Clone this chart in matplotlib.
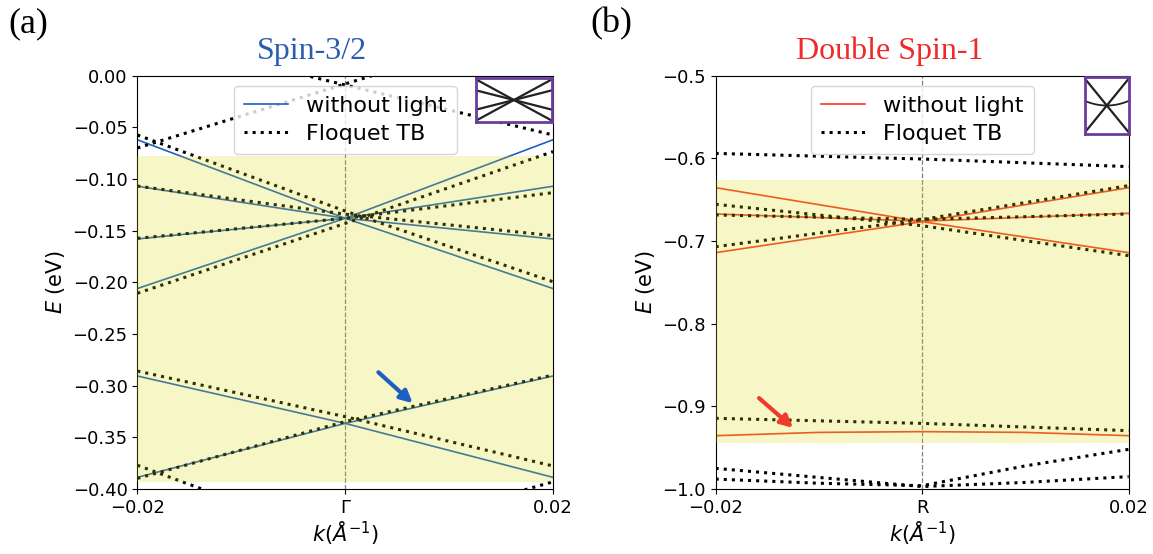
import numpy as np
import matplotlib
matplotlib.use("Agg")
import matplotlib.pyplot as plt

# ---- data ----
k3 = [-0.02, 0.0, 0.02]
k5 = [-0.02, -0.01, 0.0, 0.01, 0.02]

# (a) Spin-3/2 : bands without light (solid)
a_bare = [
    [-0.062, -0.138, -0.206],
    [-0.107, -0.138, -0.158],
    [-0.158, -0.138, -0.107],
    [-0.206, -0.138, -0.062],
    [-0.2906, -0.3365, -0.3887],
    [-0.3887, -0.3365, -0.2906],
]
# (a) Floquet TB (dotted)
a_floq = [
    [-0.0574, -0.131, -0.1994],
    [-0.1068, -0.134, -0.1548],
    [-0.1574, -0.138, -0.1132],
    [-0.2106, -0.143, -0.0735],
    [-0.2858, -0.330, -0.3777],
    [-0.3897, -0.3348, -0.2897],
    [-0.070, -0.008, 0.054],
    [0.040, -0.009, -0.0574],
    [-0.377, -0.451, -0.530],
    [-0.550, -0.450, -0.393],
]
a_window = (-0.393, -0.0777)

# (b) Double Spin-1
b_bare3 = [
    [-0.6355, -0.6766, -0.7141],
    [-0.6673, -0.6760, -0.6665],
    [-0.7141, -0.6766, -0.6355],
]
b_bare5 = [[-0.9355, -0.9315, -0.9306, -0.9315, -0.9355]]
b_floq3 = [
    [-0.594, -0.6008, -0.610],
    [-0.6556, -0.6815, -0.7177],
    [-0.6685, -0.6738, -0.6673],
    [-0.7069, -0.6740, -0.633],
]
b_floq5 = [
    [-0.9145, -0.9175, -0.9206, -0.925, -0.9294],
    [-0.975, -0.986, -0.997, -0.992, -0.985],
    [-0.988, -0.993, -0.996, -0.972, -0.952],
]
b_window = (-0.944, -0.6262)

# inset sketches (box coordinates 0..1)
ins_x = [0.0, 0.5, 1.0]
ins_a = [[0.97, 0.5, 0.03], [0.72, 0.5, 0.28], [0.28, 0.5, 0.72], [0.03, 0.5, 0.97]]
ins_b = [[0.97, 0.5, 0.03], [0.03, 0.5, 0.97], [0.58, 0.5, 0.58]]

blue = "#1f5fc0"
red = "#f03a2a"
purple = "#6a3d9a"

plt.rcParams["font.size"] = 13
fig = plt.figure(figsize=(11.53, 5.54), dpi=100)
axa = fig.add_axes([0.1191, 0.1173, 0.3605, 0.7461])
axb = fig.add_axes([0.6207, 0.1173, 0.3582, 0.7461])


def panel(ax, bare, floq, window, color, ylim, yticks, fmt, xtick_mid):
    ax.axvline(0, color="gray", ls="--", lw=0.9, zorder=1)
    for i, (kk, ee) in enumerate(bare):
        ax.plot(kk, ee, color=color, lw=1.2, zorder=2,
                label="without light" if i == 0 else None)
    for i, (kk, ee) in enumerate(floq):
        ax.plot(kk, ee, color="black", ls=":", lw=2.2, zorder=2,
                label="Floquet TB" if i == 0 else None)
    ax.axhspan(window[0], window[1], color="#dada00", alpha=0.22, lw=0, zorder=3)
    ax.set_xlim(-0.02, 0.02)
    ax.set_ylim(*ylim)
    ax.set_xticks([-0.02, 0.0, 0.02])
    ax.set_xticklabels(["\u22120.02", xtick_mid, "0.02"])
    ax.set_yticks(yticks)
    ax.set_yticklabels([fmt % v if v >= 0 else "\u2212" + fmt % abs(v) for v in yticks])
    ax.set_xlabel(r"$k(\AA^{-1})$", fontsize=15, labelpad=2)
    ax.set_ylabel(r"$E$ (eV)", fontsize=15)
    leg = ax.legend(loc="upper center", fontsize=16, handlelength=2.0,
                    handletextpad=0.8, borderaxespad=0.45, labelspacing=0.38,
                    borderpad=0.45)
    leg.set_zorder(5)


panel(axa,
      [(k3, e) for e in a_bare],
      [(k3, e) for e in a_floq],
      a_window, blue, (-0.4, 0.0), np.arange(0.0, -0.401, -0.05)[::-1], "%.2f", "\u0393")
panel(axb,
      [(k3, e) for e in b_bare3] + [(k5, e) for e in b_bare5],
      [(k3, e) for e in b_floq3] + [(k5, e) for e in b_floq5],
      b_window, red, (-1.0, -0.5), np.arange(-1.0, -0.499, 0.1), "%.1f", "R")

axa.annotate("", xy=(0.0065, -0.317), xytext=(0.0032, -0.287),
             arrowprops=dict(arrowstyle="-|>", color=blue, lw=3, mutation_scale=18,
                             shrinkA=0, shrinkB=0), zorder=6)
axb.annotate("", xy=(-0.0125, -0.926), xytext=(-0.0158, -0.890),
             arrowprops=dict(arrowstyle="-|>", color=red, lw=3, mutation_scale=18,
                             shrinkA=0, shrinkB=0), zorder=6)

# insets
for rect, lines in [([0.4128, 0.7798, 0.0659, 0.0794], ins_a),
                    ([0.9410, 0.7581, 0.0379, 0.1029], ins_b)]:
    ins = fig.add_axes(rect)
    for yy in lines:
        if yy[0] == yy[2]:
            xs = np.linspace(0, 1, 30)
            ins.plot(xs, np.polyval(np.polyfit(ins_x, yy, 2), xs), color="#222222", lw=1.3)
        else:
            ins.plot(ins_x, yy, color="#222222", lw=1.6)
    ins.set_xlim(0, 1)
    ins.set_ylim(0, 1)
    ins.set_xticks([])
    ins.set_yticks([])
    for s in ins.spines.values():
        s.set_color(purple)
        s.set_linewidth(2)

fig.text(312 / 1153, 1 - 59 / 554, "Spin-3/2", color="#2a5db0", fontsize=23,
         family="Liberation Serif", ha="center", va="baseline")
fig.text(890 / 1153, 1 - 59 / 554, "Double Spin-1", color="#ee2a2a", fontsize=23,
         family="Liberation Serif", ha="center", va="baseline")
fig.text(8 / 1153, 1 - 32 / 554, "(a)", fontsize=26, family="Liberation Serif",
         va="baseline")
fig.text(590 / 1153, 1 - 32 / 554, "(b)", fontsize=26, family="Liberation Serif",
         va="baseline")

fig.savefig("out.png", dpi=100)
